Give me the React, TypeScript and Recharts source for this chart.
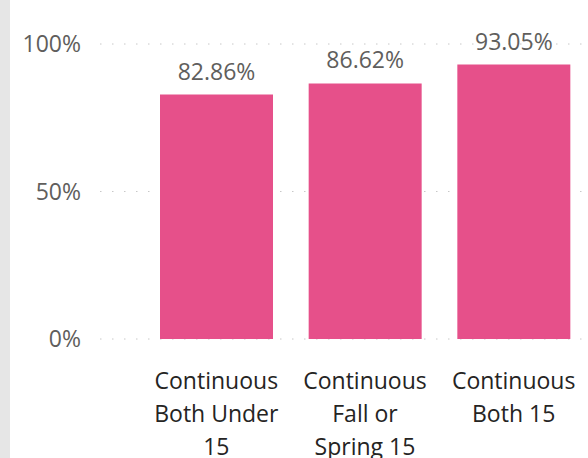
import React from "react";
import { BarChart, Bar, XAxis, YAxis, CartesianGrid, LabelList } from "recharts";

// values (percent); category labels kept as their wrapped lines
const categoryLines = [
  ["Continuous", "Both Under", "15"],
  ["Continuous", "Fall or", "Spring 15"],
  ["Continuous", "Both 15"],
];
const rates = [82.86, 86.62, 93.05];
const yTicks = [0, 50, 100];

const data = categoryLines.map((lines, i) => ({ name: lines.join(" "), rate: rates[i] }));
const linesByName: Record<string, string[]> = {};
categoryLines.forEach((lines) => {
  linesByName[lines.join(" ")] = lines;
});

const FONT = "'Open Sans', 'Noto Sans', sans-serif";
const BAR_COLOR = "#E6508A";

function CategoryTick(props: any) {
  const { x, y, payload } = props;
  const lines = linesByName[payload.value] || [payload.value];
  return (
    <text
      x={x}
      y={y}
      textAnchor="middle"
      fontFamily={FONT}
      fontSize={23}
      fill="#252423"
    >
      {lines.map((line, i) => (
        <tspan key={i} x={x} y={y + 50 + i * 33}>
          {line}
        </tspan>
      ))}
    </text>
  );
}

export default function App() {
  return (
    <div
      style={{
        position: "fixed",
        left: 0,
        top: 0,
        width: 588,
        height: 458,
        background: "#fff",
        overflow: "hidden",
      }}
    >
      <div
        style={{
          position: "absolute",
          left: 0,
          top: 0,
          width: 10,
          height: 458,
          background: "#e6e6e6",
        }}
      />
      <BarChart
        width={588}
        height={458}
        data={data}
        margin={{ top: 44, right: 0, bottom: 89, left: 0 }}
        barCategoryGap={18}
      >
        <CartesianGrid
          vertical={false}
          stroke="#c8c8c8"
          strokeDasharray="1.5 10.5"
        />
        <XAxis
          dataKey="name"
          height={30}
          axisLine={false}
          tickLine={false}
          tickSize={0}
          tickMargin={0}
          padding={{ left: 42, right: 0 }}
          interval={0}
          tick={<CategoryTick />}
        />
        <YAxis
          width={100}
          domain={[0, 100]}
          ticks={yTicks}
          axisLine={false}
          tickLine={false}
          tickMargin={13}
          tickFormatter={(v: number) => `${v}%`}
          tick={{ fontFamily: FONT, fontSize: 23, fill: "#605e5c" }}
        />
        <Bar dataKey="rate" fill={BAR_COLOR} isAnimationActive={false}>
          <LabelList
            dataKey="rate"
            position="top"
            offset={15}
            formatter={(v: any) => `${Number(v).toFixed(2)}%`}
            style={{ fontFamily: FONT, fontSize: 23, fill: "#605e5c" }}
          />
        </Bar>
      </BarChart>
    </div>
  );
}
